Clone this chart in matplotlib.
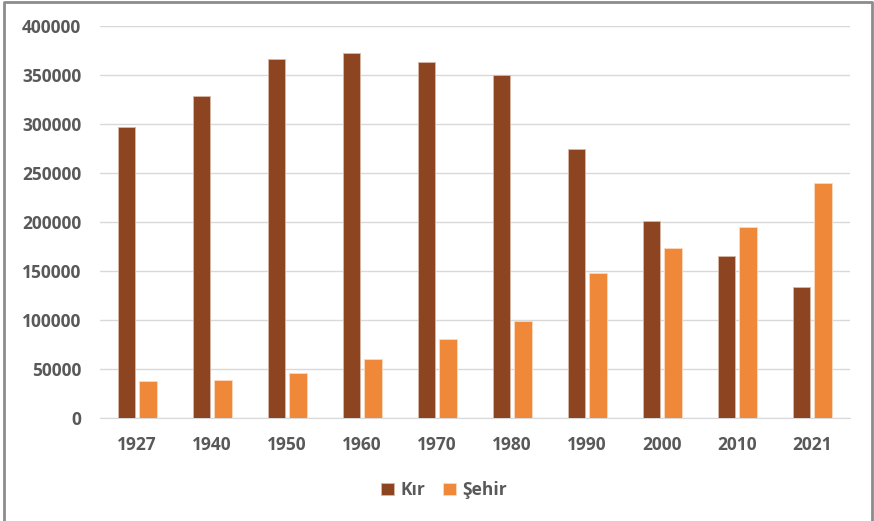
import numpy as np
import matplotlib.pyplot as plt
from matplotlib.lines import Line2D

years = ['1927', '1940', '1950', '1960', '1970', '1980', '1990', '2000', '2010', '2021']
kir = [297000, 329000, 366000, 372000, 363000, 350000, 274500, 201000, 165000, 134000]
sehir = [37800, 38800, 45600, 60000, 80600, 99000, 147600, 173000, 194600, 240000]

kir_color = '#8C4520'
sehir_color = '#F0883A'
text_color = '#595959'

plt.rcParams['font.family'] = ['Open Sans', 'DejaVu Sans']

fig = plt.figure(figsize=(8.74, 5.21), dpi=100)
ax = fig.add_axes([99.5 / 874, 1 - 418 / 521, 750 / 874, 392 / 521])

x = np.arange(len(years))
w = 0.23
ax.bar(x - 0.145, kir, w, color=kir_color, edgecolor='#D9B8A8', linewidth=0.6, label='Kır', zorder=3)
ax.bar(x + 0.145, sehir, w, color=sehir_color, edgecolor='#FAD9C0', linewidth=0.6, label='Şehir', zorder=3)

ax.set_xlim(-0.5, len(years) - 0.5)
ax.set_ylim(0, 400000)
ax.set_yticks(np.arange(0, 400001, 50000))
ax.set_xticks(x)
ax.set_xticklabels(years)
ax.yaxis.grid(True, color='#D9D9D9', linewidth=1, zorder=0)
ax.tick_params(length=0, labelsize=12.5, colors=text_color, pad=13)
ax.tick_params(axis='x', pad=13)
for lab in ax.get_xticklabels() + ax.get_yticklabels():
    lab.set_fontweight('bold')
for s in ['top', 'right', 'left']:
    ax.spines[s].set_visible(False)
ax.spines['bottom'].set_color('#D9D9D9')

leg = ax.legend(loc='center', bbox_to_anchor=(444 / 874, 1 - 490 / 521), bbox_transform=fig.transFigure,
                ncol=2, frameon=False, handlelength=0.75, handleheight=0.75, handletextpad=0.35,
                columnspacing=1.0, prop={'size': 12.5, 'weight': 'bold'})
for t in leg.get_texts():
    t.set_color(text_color)

# chart border (left, top, right only)
bx = [4 / 874, 4 / 874, 872 / 874, 872 / 874]
by = [0.0, 1 - 2 / 521, 1 - 2 / 521, 0.0]
fig.add_artist(Line2D(bx, by, transform=fig.transFigure, color='#8C8C8C', linewidth=2))

fig.savefig('out.png', dpi=100)
